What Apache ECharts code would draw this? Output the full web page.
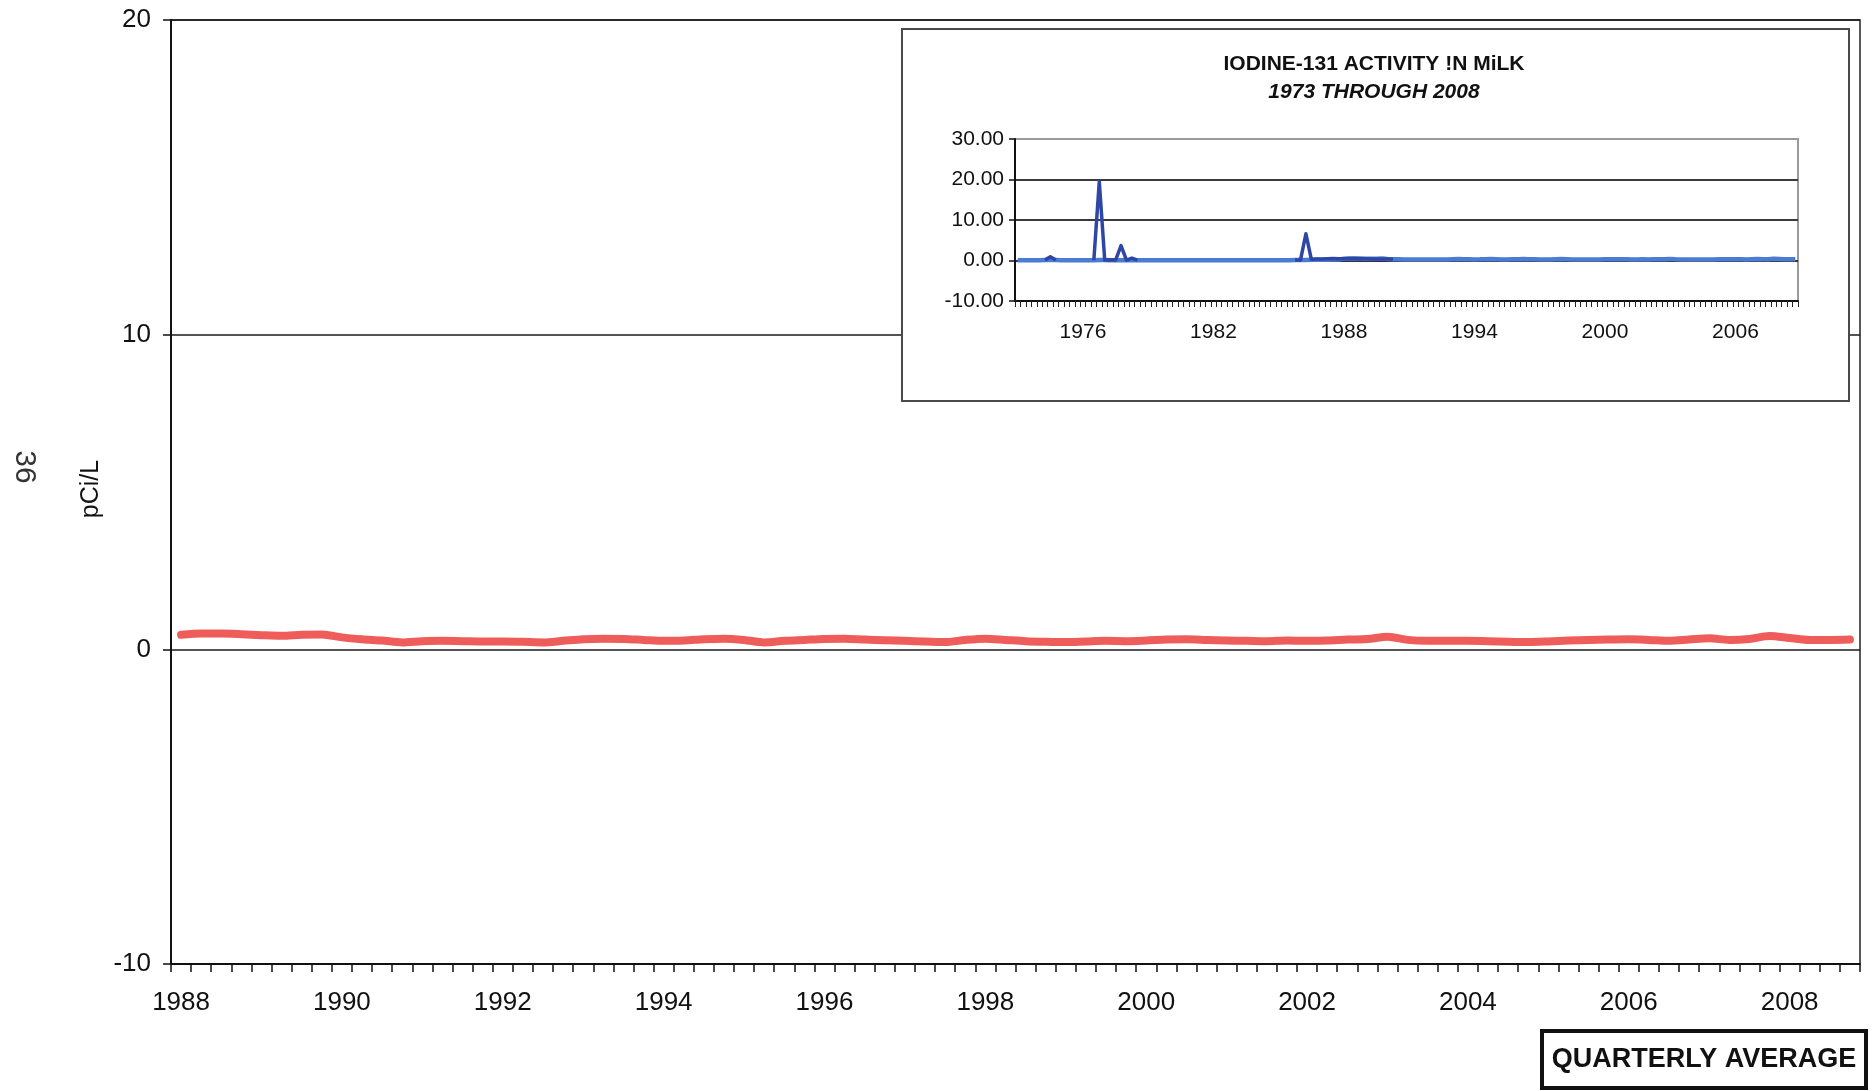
<!DOCTYPE html>
<html>
<head>
<meta charset="utf-8">
<script src="https://cdn.jsdelivr.net/npm/echarts@6/dist/echarts.min.js"></script>
<style>
html,body{margin:0;padding:0;background:#fff;}
#chart{width:1873px;height:1091px;}
</style>
</head>
<body>
<div id="chart"></div>
<script>
// ---------- DATA ----------
const mainYears = [1988,1989,1990,1991,1992,1993,1994,1995,1996,1997,1998,1999,2000,2001,2002,2003,2004,2005,2006,2007,2008];
const quarters = ['Q1','Q2','Q3','Q4'];
// Quarterly average I-131 in milk, pCi/L, 1988 Q1 .. 2008 Q4
const quarterlyAvg = [
  0.46,0.50,0.50,0.48, 0.45,0.43,0.46,0.47,
  0.38,0.32,0.28,0.22, 0.26,0.27,0.26,0.25,
  0.25,0.24,0.22,0.27, 0.32,0.34,0.33,0.30,
  0.27,0.28,0.32,0.34, 0.30,0.22,0.27,0.30,
  0.33,0.34,0.31,0.29, 0.27,0.25,0.23,0.30,
  0.34,0.30,0.26,0.24, 0.23,0.25,0.27,0.26,
  0.28,0.31,0.32,0.30, 0.28,0.27,0.26,0.28,
  0.27,0.28,0.31,0.33, 0.40,0.30,0.27,0.27,
  0.27,0.26,0.24,0.23, 0.25,0.28,0.30,0.31,
  0.32,0.30,0.27,0.31, 0.35,0.30,0.33,0.42,
  0.36,0.30,0.30,0.31
];
const mainYTicks = [-10, 0, 10, 20];

// Inset: 1973 Q1 .. 2008 Q4
const insetYears = [];
for (let y = 1973; y <= 2008; y++) insetYears.push(y);
// base (light) series 1973 Q1 .. 1987 Q4
const insetEarlyBase = [
  0.05,0.05,0.08,0.06, 0.08,0.10,0.12,0.10, 0.08,0.06,0.05,0.05,
  0.06,0.06,0.08,0.10, 0.10,0.08,0.06,0.08, 0.08,0.10,0.08,0.06,
  0.05,0.05,0.06,0.05, 0.05,0.05,0.04,0.05, 0.05,0.04,0.05,0.05,
  0.04,0.05,0.05,0.04, 0.05,0.05,0.05,0.05, 0.05,0.06,0.05,0.05,
  0.06,0.06,0.08,0.10, 0.12,0.14,0.16,0.18, 0.20,0.20,0.22,0.22
];
// darker earlier-record series 1973 Q1 .. 1990 Q2 (null where not drawn)
const insetEarlyPeaks = [
  null,null,null,null, null,0.1,0.9,0.1, null,null,null,null,
  null,null,0.1,19.5, 0.1,0.2,0.1,3.7, 0.1,0.6,0.1,null,
  null,null,null,null, null,null,null,null, null,null,null,null,
  null,null,null,null, null,null,null,null, null,null,null,null,
  null,null,null,0.1, 0.1,6.6,0.3,0.4, 0.4,0.45,0.5,0.45,
  0.45,0.5,0.5,0.45, 0.45,0.4,0.4,0.4, 0.4,0.4
];
const insetYTicks = [-10, 0, 10, 20, 30];

// ---------- BUILD ----------
const mainCategories = mainYears.flatMap(y => quarters.map(q => y + ' ' + q));
const insetCategories = insetYears.flatMap(y => quarters.map(q => y + ' ' + q));
const insetBase = insetEarlyBase.concat(quarterlyAvg);

const FONT = '"Liberation Sans", Arial, sans-serif';
const INK = '#111111';

const chart = echarts.init(document.getElementById('chart'), null, {renderer: 'canvas'});
chart.setOption({
  backgroundColor: '#ffffff',
  animation: false,
  textStyle: {fontFamily: FONT},
  grid: [
    {left: 171, right: 13, top: 20, bottom: 127, show: true, borderColor: '#222', borderWidth: 1.5, z: 0},
    {left: 1015, width: 783, top: 139, height: 162, show: true, borderColor: '#9a9a9a', borderWidth: 2, backgroundColor: '#fff', z: 4}
  ],
  xAxis: [
    {
      type: 'category', gridIndex: 0, data: mainCategories, boundaryGap: true, z: 1,
      axisLine: {show: true, onZero: false, lineStyle: {color: '#111', width: 2}},
      axisTick: {show: true, interval: 0, length: 8, lineStyle: {color: '#111', width: 1.5}},
      axisLabel: {
        interval: (i) => i % 8 === 0,
        formatter: (v) => v.slice(0, 4),
        fontSize: 26, color: INK, margin: 26, fontFamily: FONT
      },
      splitLine: {show: false}
    },
    {
      type: 'category', gridIndex: 1, data: insetCategories, boundaryGap: true, z: 5,
      axisLine: {show: true, onZero: false, lineStyle: {color: '#111', width: 2}},
      axisTick: {show: true, interval: 0, length: 6, lineStyle: {color: '#222', width: 1}},
      axisLabel: {
        interval: (i) => i % 24 === 12,
        formatter: (v) => v.slice(0, 4),
        fontSize: 21, color: INK, margin: 21, fontFamily: FONT
      },
      splitLine: {show: false}
    }
  ],
  yAxis: [
    {
      type: 'value', gridIndex: 0, min: -10, max: 20, interval: 10, z: 1,
      axisLine: {show: true, lineStyle: {color: '#111', width: 2}},
      axisTick: {show: true, length: 8, lineStyle: {color: '#111', width: 1.5}},
      axisLabel: {fontSize: 26, color: INK, margin: 20, fontFamily: FONT,
        formatter: (v) => mainYTicks.includes(v) ? String(v) : ''},
      splitLine: {show: true, lineStyle: {color: '#1a1a1a', width: 1.6}}
    },
    {
      type: 'value', gridIndex: 1, min: -10, max: 30, interval: 10, z: 5,
      axisLine: {show: true, lineStyle: {color: '#111', width: 2}},
      axisTick: {show: true, length: 6, lineStyle: {color: '#111', width: 1.5}},
      axisLabel: {fontSize: 21, color: INK, margin: 11, fontFamily: FONT,
        formatter: (v) => insetYTicks.includes(v) ? v.toFixed(2) : ''},
      splitLine: {show: true, lineStyle: {color: ['#333', '#333', '#3a3a3a', '#3a3a3a', '#9a9a9a'], width: 2}}
    }
  ],
  series: [
    {
      type: 'line', xAxisIndex: 0, yAxisIndex: 0, data: quarterlyAvg, z: 2,
      showSymbol: false, smooth: 0.3,
      lineStyle: {color: '#ef5d5b', width: 8, cap: 'round', join: 'round'}
    },
    {
      type: 'line', xAxisIndex: 1, yAxisIndex: 1, data: insetBase, z: 6,
      showSymbol: false,
      lineStyle: {color: '#4b7bd2', width: 4.5, join: 'round'}
    },
    {
      type: 'line', xAxisIndex: 1, yAxisIndex: 1, data: insetEarlyPeaks, z: 7,
      showSymbol: false, connectNulls: false,
      lineStyle: {color: '#2e47a6', width: 3.5, join: 'round'}
    }
  ],
  graphic: [
    {type: 'rect', z: 3, shape: {x: 902, y: 29, width: 947, height: 372},
      style: {fill: '#fff', stroke: '#4a4a4a', lineWidth: 2}},
    {type: 'text', z: 8, x: 1374, y: 64,
      style: {text: 'IODINE-131 ACTIVITY !N MiLK', fontFamily: FONT, fontWeight: 'bold', fontSize: 21,
        fill: INK, align: 'center', verticalAlign: 'middle'}},
    {type: 'text', z: 8, x: 1374, y: 92,
      style: {text: '1973 THROUGH 2008', fontFamily: FONT, fontWeight: 'bold', fontStyle: 'italic', fontSize: 21,
        fill: INK, align: 'center', verticalAlign: 'middle'}},
    {type: 'text', z: 8, x: 91, y: 489, rotation: Math.PI / 2,
      style: {text: 'pCi/L', fontFamily: FONT, fontSize: 25, fill: INK, align: 'center', verticalAlign: 'middle'}},
    {type: 'text', z: 8, x: 24, y: 467, rotation: -Math.PI / 2,
      style: {text: '36', fontFamily: FONT, fontSize: 30, fill: '#333', align: 'center', verticalAlign: 'middle'}},
    {type: 'rect', z: 8, shape: {x: 1542, y: 1031, width: 324, height: 57},
      style: {fill: '#fff', stroke: '#111', lineWidth: 4}},
    {type: 'text', z: 9, x: 1704, y: 1060,
      style: {text: 'QUARTERLY AVERAGE', fontFamily: FONT, fontWeight: 'bold', fontSize: 27,
        fill: INK, align: 'center', verticalAlign: 'middle'}}
  ]
});
</script>
</body>
</html>
